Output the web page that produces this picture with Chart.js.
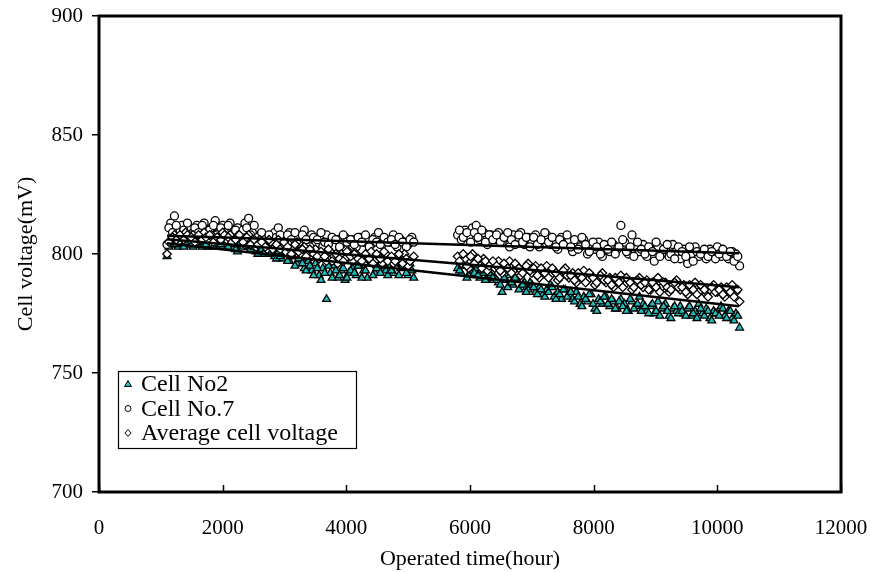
<!DOCTYPE html>
<html>
<head>
<meta charset="utf-8">
<script src="https://cdn.jsdelivr.net/npm/chart.js@4.4.1/dist/chart.umd.min.js"></script>
<style>
  html, body { margin: 0; padding: 0; background: #fff; }
  #wrap { width: 873px; height: 572px; }
</style>
</head>
<body>
<div id="wrap"><canvas id="chart" width="873" height="572"></canvas></div>
<script>
// operated time (hour), first run and second run (two interleaved readings)
const hoursA = [
  1100,1160,1220,1280,1340,1400,1460,1520,1580,1640,
  1700,1760,1820,1880,1940,2000,2060,2120,2180,2240,
  2300,2360,2420,2480,2540,2600,2660,2720,2780,2840,
  2900,2960,3020,3080,3140,3200,3260,3320,3380,3440,
  3500,3560,3620,3680,3740,3800,3860,3920,3980,4040,
  4100,4160,4220,4280,4340,4400,4460,4520,4580,4640,
  4700,4760,4820,4880,4940,5000,5060
];
const hoursA2 = [
  1130,1190,1250,1310,1370,1430,1490,1550,1610,1670,
  1730,1790,1850,1910,1970,2030,2090,2150,2210,2270,
  2330,2390,2450,2510,2570,2630,2690,2750,2810,2870,
  2930,2990,3050,3110,3170,3230,3290,3350,3410,3470,
  3530,3590,3650,3710,3770,3830,3890,3950,4010,4070,
  4130,4190,4250,4310,4370,4430,4490,4550,4610,4670,
  4730,4790,4850,4910,4970,5030,5090
];
const hoursB = [
  5800,5860,5920,5980,6040,6100,6160,6220,6280,6340,
  6400,6460,6520,6580,6640,6700,6760,6820,6880,6940,
  7000,7060,7120,7180,7240,7300,7360,7420,7480,7540,
  7600,7660,7720,7780,7840,7900,7960,8020,8080,8140,
  8200,8260,8320,8380,8440,8500,8560,8620,8680,8740,
  8800,8860,8920,8980,9040,9100,9160,9220,9280,9340,
  9400,9460,9520,9580,9640,9700,9760,9820,9880,9940,
  10000,10060,10120,10180,10240,10300,10360
];
const hoursB2 = [
  5830,5890,5950,6010,6070,6130,6190,6250,6310,6370,
  6430,6490,6550,6610,6670,6730,6790,6850,6910,6970,
  7030,7090,7150,7210,7270,7330,7390,7450,7510,7570,
  7630,7690,7750,7810,7870,7930,7990,8050,8110,8170,
  8230,8290,8350,8410,8470,8530,8590,8650,8710,8770,
  8830,8890,8950,9010,9070,9130,9190,9250,9310,9370,
  9430,9490,9550,9610,9670,9730,9790,9850,9910,9970,
  10030,10090,10150,10210,10270,10330
];

// Cell No2 (mV)
const cell2A = [
  799,804,805,803,805,804,806,803,805,804,
  805,803,806,804,805,803,806,804,805,801,
  804,805,803,802,801,803,800,802,801,799,
  801,798,800,797,799,796,798,794,797,793,
  796,791,794,781,792,795,790,793,789,792,
  794,791,795,793,790,796,792,794,797,793,
  795,792,796,794,797,791,793
];
const cell2A2 = [
  803,805,804,806,803,805,804,806,805,803,
  804,806,803,805,804,806,803,805,802,804,
  803,804,802,803,800,802,801,800,802,798,
  799,801,797,799,795,798,796,793,795,791,
  794,789,792,795,790,793,791,794,790,793,
  792,795,790,793,796,791,794,792,795,791,
  793,796,791,795,792,796,790
];
const cell2B = [
  794,792,795,791,793,794,790,792,789,791,
  790,788,784,789,791,787,789,786,788,785,
  787,784,786,783,785,787,782,784,781,785,
  783,781,784,779,782,780,783,777,781,779,
  782,778,780,777,781,779,776,780,778,782,
  779,776,778,775,780,777,779,774,777,776,
  778,775,777,774,776,779,775,777,773,776,
  775,778,774,776,773,775,769
];
const cell2B2 = [
  793,795,790,794,792,791,793,789,792,790,
  789,787,790,786,788,790,785,787,784,788,
  786,783,785,782,784,786,781,783,785,782,
  784,780,782,778,781,783,779,776,780,782,
  779,781,777,780,778,776,781,777,779,776,
  778,775,779,776,774,778,776,773,778,775,
  776,774,778,775,773,777,774,776,772,775,
  774,777,773,776,772,774
];

// Cell No.7 (mV)
const cell7A = [
  804,813,816,810,812,808,811,809,812,810,
  813,808,811,814,809,812,810,813,808,811,
  807,813,815,809,806,808,805,807,806,809,
  811,807,806,809,805,807,804,810,806,808,
  804,807,803,808,805,803,806,804,807,805,
  806,803,807,805,806,804,807,809,804,806,
  805,808,803,806,805,804,807
];
const cell7A2 = [
  811,809,812,807,810,813,808,811,809,812,
  807,810,812,808,811,809,812,807,810,808,
  810,811,808,812,807,809,806,808,804,807,
  808,805,808,806,809,805,808,806,803,807,
  806,809,805,804,807,806,803,808,805,806,
  804,807,805,808,803,806,805,804,807,805,
  806,804,807,805,803,806,805
];
const cell7B = [
  808,806,810,807,811,812,806,809,804,808,
  806,809,805,807,803,808,806,809,804,807,
  805,808,803,806,808,804,806,802,807,804,
  806,801,805,803,806,800,804,802,805,799,
  803,801,804,802,812,805,800,808,803,801,
  804,799,802,797,803,800,802,799,804,801,
  798,802,796,800,803,799,801,798,802,800,
  803,799,801,798,801,800,795
];
const cell7B2 = [
  810,807,809,805,809,807,810,805,808,806,
  808,805,807,809,806,804,808,805,807,803,
  807,804,806,809,805,807,803,806,804,808,
  803,806,802,807,804,801,805,803,800,804,
  802,805,800,803,806,801,803,799,805,802,
  800,803,801,805,799,802,804,800,798,803,
  801,799,803,797,801,800,802,799,801,798,
  800,802,799,801,797,799
];

// Average cell voltage (mV)
const avgA = [
  800,806,808,805,807,809,806,808,805,807,
  809,806,808,805,807,809,806,808,805,807,
  806,804,808,805,803,806,804,802,805,803,
  806,803,801,804,802,805,800,803,801,799,
  802,798,800,797,801,799,796,800,798,801,
  797,800,798,796,799,801,797,799,796,800,
  798,796,799,797,800,795,798
];
const avgA2 = [
  805,807,806,808,806,808,807,805,808,806,
  807,808,805,807,806,808,807,805,806,808,
  805,807,804,806,804,805,803,806,802,804,
  802,805,803,800,804,801,802,799,802,800,
  799,801,799,802,797,800,798,797,801,799,
  800,798,797,800,798,796,800,798,801,797,
  799,797,800,796,798,797,799
];
const avgB = [
  799,796,798,794,800,797,795,798,793,796,
  794,797,792,795,797,793,795,791,794,796,
  792,795,790,793,795,791,793,789,792,794,
  790,792,788,791,793,789,791,787,790,792,
  788,790,786,789,791,787,789,785,788,790,
  786,789,785,787,790,786,788,784,787,789,
  785,787,783,786,788,784,786,783,785,787,
  784,786,782,785,787,784,780
];
const avgB2 = [
  797,800,795,799,796,798,794,797,795,797,
  795,793,796,794,792,796,794,792,795,793,
  794,791,794,792,790,794,792,790,793,791,
  791,789,792,790,788,792,790,788,791,789,
  789,787,790,788,786,790,788,786,789,787,
  788,785,788,786,784,788,786,785,788,786,
  786,784,787,785,783,787,785,782,786,784,
  785,783,786,784,782,785
];

// linear trend lines (end points)
const trendHours = [1100, 10350];
const trendCell7 = [807.7, 800.3];
const trendAvg = [806.2, 786];
const trendCell2 = [804.5, 778];

const xTicks = [0, 2000, 4000, 6000, 8000, 10000, 12000];
const yTicks = [700, 750, 800, 850, 900];

const TEAL = '#22BDBD';
const SERIF = "'Liberation Serif', 'Times New Roman', serif";

function toPoints(xs, ys) {
  return xs.map((x, i) => ({ x: x, y: ys[i] }));
}
const allHours = hoursA.concat(hoursA2, hoursB, hoursB2);

const scatterDefaults = { showLine: false, borderWidth: 1.3, borderColor: '#000', pointBorderColor: '#000' };

// frame + inward ticks on x axis
const framePlugin = {
  id: 'frame',
  afterDraw(chart) {
    const { ctx, chartArea: a } = chart;
    const xs = chart.scales.x;
    ctx.save();
    ctx.strokeStyle = '#000';
    ctx.lineWidth = 1.5;
    xTicks.forEach(v => {
      const px = Math.round(xs.getPixelForValue(v)) + 0.5;
      ctx.beginPath();
      ctx.moveTo(px, a.bottom);
      ctx.lineTo(px, a.bottom - 7);
      ctx.stroke();
    });
    ctx.lineWidth = 3;
    ctx.strokeRect(a.left, a.top, a.right - a.left, a.bottom - a.top);
    ctx.restore();
  }
};

// boxed legend inside the plot
const legendPlugin = {
  id: 'boxLegend',
  afterDraw(chart) {
    const { ctx, chartArea: a } = chart;
    const bx = a.left + 19, by = a.top + 355, bw = 238, bh = 77;
    ctx.save();
    ctx.fillStyle = '#fff';
    ctx.fillRect(bx, by, bw, bh);
    ctx.strokeStyle = '#000';
    ctx.lineWidth = 1.2;
    ctx.strokeRect(bx + 0.5, by + 0.5, bw, bh);
    const items = ['Cell No2', 'Cell No.7', 'Average cell voltage'];
    ctx.font = '24px ' + SERIF;
    ctx.textBaseline = 'middle';
    items.forEach((label, i) => {
      const cy = by + 13 + i * 24.5;
      const mx = bx + 10;
      ctx.lineWidth = 1;
      ctx.strokeStyle = '#000';
      ctx.beginPath();
      if (i === 0) {
        ctx.moveTo(mx, cy - 3.5);
        ctx.lineTo(mx + 3.5, cy + 2.5);
        ctx.lineTo(mx - 3.5, cy + 2.5);
        ctx.closePath();
        ctx.fillStyle = TEAL;
      } else if (i === 1) {
        ctx.arc(mx, cy, 3, 0, Math.PI * 2);
        ctx.fillStyle = '#fff';
      } else {
        ctx.moveTo(mx, cy - 3.5);
        ctx.lineTo(mx + 3, cy);
        ctx.lineTo(mx, cy + 3.5);
        ctx.lineTo(mx - 3, cy);
        ctx.closePath();
        ctx.fillStyle = '#fff';
      }
      ctx.fill();
      ctx.stroke();
      ctx.fillStyle = '#000';
      ctx.fillText(label, bx + 23, cy + 1);
    });
    ctx.restore();
  }
};

new Chart(document.getElementById('chart'), {
  type: 'scatter',
  data: {
    datasets: [
      Object.assign({}, scatterDefaults, {
        label: 'Average cell voltage',
        data: toPoints(allHours, avgA.concat(avgA2, avgB, avgB2)),
        pointStyle: 'rectRot', pointRadius: 4.3, pointBackgroundColor: '#fff', order: 1
      }),
      Object.assign({}, scatterDefaults, {
        label: 'Cell No.7',
        data: toPoints(allHours, cell7A.concat(cell7A2, cell7B, cell7B2)),
        pointStyle: 'circle', pointRadius: 4, pointBackgroundColor: '#fff', order: 2
      }),
      Object.assign({}, scatterDefaults, {
        label: 'Cell No2',
        data: toPoints(allHours, cell2A.concat(cell2A2, cell2B, cell2B2)),
        pointStyle: 'triangle', pointRadius: 4.5, pointBackgroundColor: TEAL, order: 3
      }),
      { type: 'line', label: 'trend7', data: toPoints(trendHours, trendCell7), borderColor: '#000', borderWidth: 2.5, pointRadius: 0, order: 0 },
      { type: 'line', label: 'trendAvg', data: toPoints(trendHours, trendAvg), borderColor: '#000', borderWidth: 2.5, pointRadius: 0, order: 0 },
      { type: 'line', label: 'trend2', data: toPoints(trendHours, trendCell2), borderColor: '#000', borderWidth: 2.5, pointRadius: 0, order: 0 }
    ]
  },
  options: {
    responsive: false,
    animation: false,
    layout: { padding: { top: 16, right: 32, left: 0, bottom: 0 } },
    plugins: { legend: { display: false }, tooltip: { enabled: false } },
    scales: {
      x: {
        type: 'linear', min: 0, max: 12000,
        afterBuildTicks: s => { s.ticks = xTicks.map(v => ({ value: v })); },
        afterFit: s => { s.height = 80; s.paddingLeft = 0; s.paddingRight = 0; },
        grid: { display: false },
        border: { display: false },
        ticks: { color: '#000', padding: 16, maxRotation: 0, callback: v => String(v), font: { family: SERIF, size: 21 } },
        title: { display: true, text: 'Operated time(hour)', color: '#000', padding: { top: 0, bottom: 0 }, font: { family: SERIF, size: 22 } }
      },
      y: {
        type: 'linear', min: 700, max: 900,
        afterBuildTicks: s => { s.ticks = yTicks.map(v => ({ value: v })); },
        afterFit: s => { s.width = 99; s.paddingTop = 0; s.paddingBottom = 0; },
        grid: { drawOnChartArea: false, drawTicks: true, tickLength: 7, color: '#000', lineWidth: 1.5 },
        border: { display: false },
        ticks: { color: '#000', padding: 9, callback: v => String(v), font: { family: SERIF, size: 21 } },
        title: { display: true, text: 'Cell voltage(mV)', color: '#000', padding: { top: 13, bottom: 0 }, font: { family: SERIF, size: 22 } }
      }
    }
  },
  plugins: [framePlugin, legendPlugin]
});
</script>
</body>
</html>
